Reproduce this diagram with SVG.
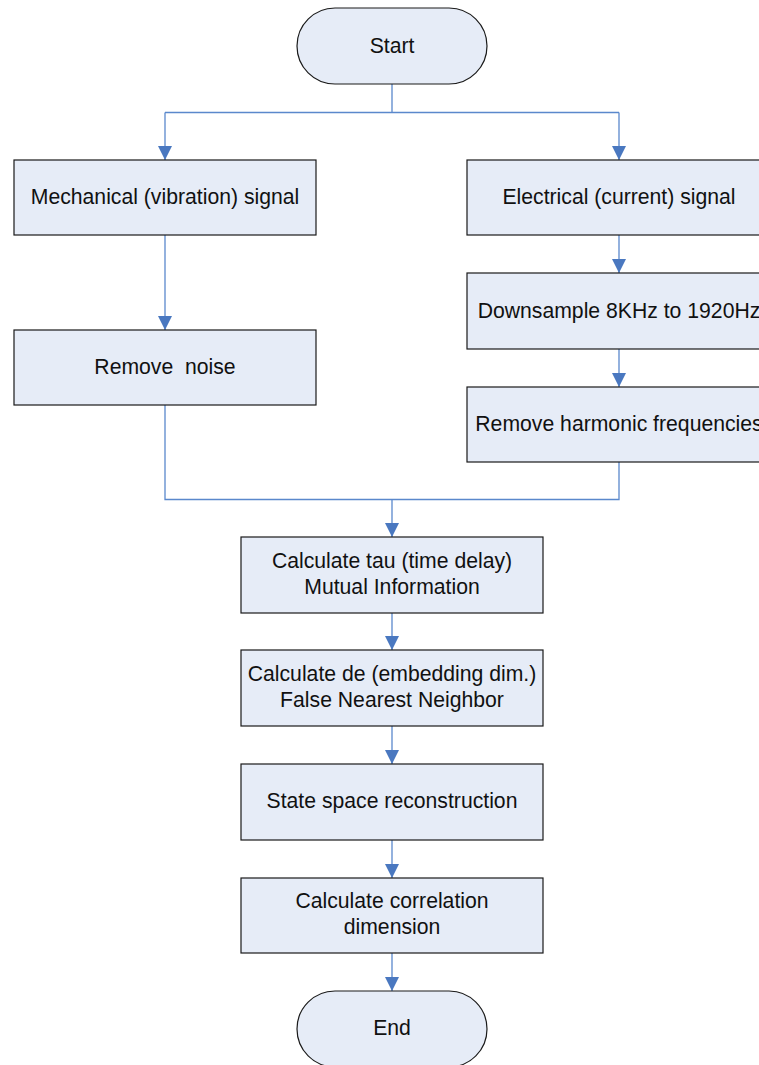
<svg xmlns="http://www.w3.org/2000/svg" width="759" height="1065" viewBox="0 0 759 1065">
<style>
.box{fill:#E6ECF7;stroke:#1a1a1a;stroke-width:1.2}
.lbl{font-family:"Liberation Sans",Arial,sans-serif;font-size:21.2px;fill:#111;text-anchor:middle;white-space:pre}
.con{fill:none;stroke:#5A88CC;stroke-width:1.3}
</style>
<defs>
<marker id="arr" markerWidth="14" markerHeight="14" viewBox="0 0 14 14" refX="14" refY="7" orient="auto" markerUnits="userSpaceOnUse">
<path d="M0,0 L14,7 L0,14 z" fill="#4A78C0"/>
</marker>
</defs>
<rect width="759" height="1065" fill="#fff"/>
<g id="connectors">
<path class="con" d="M392,84 V112.5 M165,112.5 H619"/>
<path class="con" d="M165,112.5 V160" marker-end="url(#arr)"/>
<path class="con" d="M619,112.5 V160" marker-end="url(#arr)"/>
<path class="con" d="M165,235 V330" marker-end="url(#arr)"/>
<path class="con" d="M619,235 V273" marker-end="url(#arr)"/>
<path class="con" d="M619,349 V387" marker-end="url(#arr)"/>
<path class="con" d="M165,405 V499.5 H619 V462"/>
<path class="con" d="M392,499.5 V537" marker-end="url(#arr)"/>
<path class="con" d="M392,613 V650" marker-end="url(#arr)"/>
<path class="con" d="M392,726 V764" marker-end="url(#arr)"/>
<path class="con" d="M392,840 V878" marker-end="url(#arr)"/>
<path class="con" d="M392,953 V991" marker-end="url(#arr)"/>
</g>
<g id="start"><rect class="box" x="297" y="8" width="190" height="76" rx="38" ry="38"/><text class="lbl" x="392" y="53">Start</text></g>
<g id="mech"><rect class="box" x="14" y="160" width="302" height="75"/><text class="lbl" x="165" y="204">Mechanical (vibration) signal</text></g>
<g id="elec"><rect class="box" x="467" y="160" width="304" height="75"/><text class="lbl" x="619" y="204">Electrical (current) signal</text></g>
<g id="noise"><rect class="box" x="14" y="330" width="302" height="75"/><text class="lbl" x="165" y="374">Remove  noise</text></g>
<g id="down"><rect class="box" x="467" y="273" width="304" height="76"/><text class="lbl" x="619" y="317.5">Downsample 8KHz to 1920Hz</text></g>
<g id="harm"><rect class="box" x="467" y="387" width="304" height="75"/><text class="lbl" x="619" y="431">Remove harmonic frequencies</text></g>
<g id="tau"><rect class="box" x="241" y="537" width="302" height="76"/><text class="lbl" x="392" y="568">Calculate tau (time delay)</text><text class="lbl" x="392" y="594">Mutual Information</text></g>
<g id="de"><rect class="box" x="241" y="650" width="302" height="76"/><text class="lbl" x="392" y="681">Calculate de (embedding dim.)</text><text class="lbl" x="392" y="707">False Nearest Neighbor</text></g>
<g id="ssr"><rect class="box" x="241" y="764" width="302" height="76"/><text class="lbl" x="392" y="808">State space reconstruction</text></g>
<g id="corr"><rect class="box" x="241" y="878" width="302" height="75"/><text class="lbl" x="392" y="908">Calculate correlation</text><text class="lbl" x="392" y="934">dimension</text></g>
<g id="end"><rect class="box" x="297" y="991" width="190" height="76" rx="38" ry="38"/><text class="lbl" x="392" y="1035">End</text></g>
</svg>
